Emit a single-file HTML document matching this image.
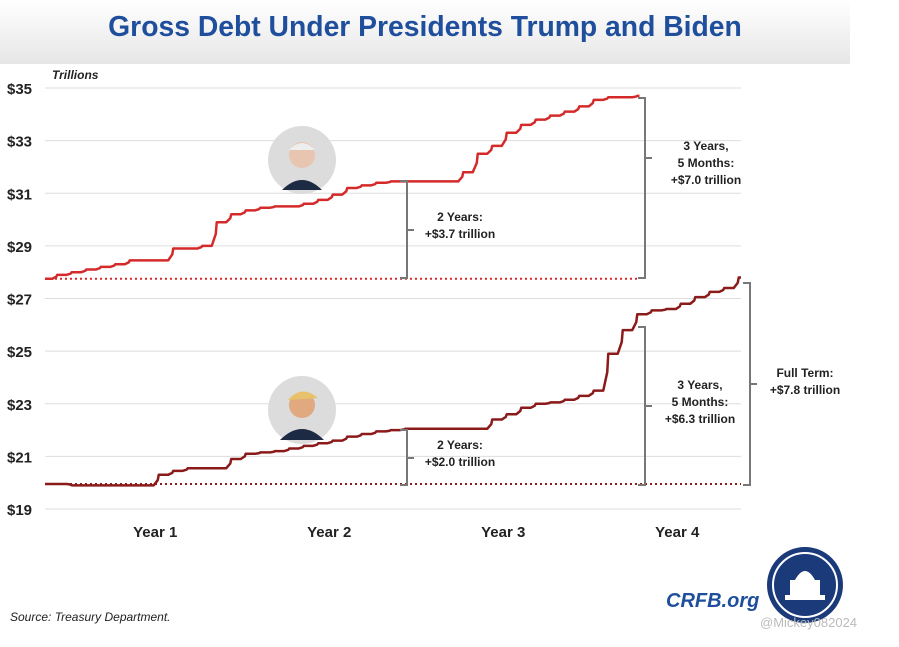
<!DOCTYPE html>
<html><head><meta charset="utf-8"><style>
body{margin:0;background:#fff;width:899px;height:642px;overflow:hidden;font-family:"Liberation Sans",sans-serif}
</style></head><body>
<svg width="899" height="642" xmlns="http://www.w3.org/2000/svg">
<defs><linearGradient id="tg" x1="0" y1="0" x2="0" y2="1"><stop offset="0" stop-color="#fff"/><stop offset="1" stop-color="#e6e6e6"/></linearGradient></defs>
<rect x="0" y="0" width="850" height="64" fill="url(#tg)"/>
<text x="425" y="36" text-anchor="middle" font-size="28.3" font-weight="bold" fill="#1f4e9c">Gross Debt Under Presidents Trump and Biden</text>
<text x="52" y="79" font-size="12" font-style="italic" font-weight="bold" fill="#222">Trillions</text>
<g id="grid"></g><g id="yt"></g><g id="xt"></g><g id="series"></g>
<circle cx="302" cy="160" r="34" fill="#dcdcdc"/>
<path d="M282 190 Q302 170 322 190 Z" fill="#1c2a44"/><circle cx="302" cy="155" r="13" fill="#e8c5b0"/><path d="M289 150 Q302 136 315 150" fill="#eee"/>
<circle cx="302" cy="410" r="34" fill="#dcdcdc"/>
<path d="M280 440 Q302 418 324 440 Z" fill="#1c2a44"/><circle cx="302" cy="405" r="13" fill="#e0a980"/><path d="M288 400 Q302 384 318 398" fill="#e8c26a"/>
<g stroke="#777" stroke-width="2" fill="none">
<path d="M400 181H407V278H400M407 230H414"/>
<path d="M638 98H645V278H638M645 158H652"/>
<path d="M400 430H407V485H400M407 458H414"/>
<path d="M638 327H645V485H638M645 406H652"/>
<path d="M743 283H750V485H743M750 384H757"/>
</g>
<g font-size="12" font-weight="bold" fill="#222" text-anchor="middle">
<text x="460" y="221">2 Years:</text><text x="460" y="238">+$3.7 trillion</text>
<text x="706" y="150">3 Years,</text><text x="706" y="167">5 Months:</text><text x="706" y="184">+$7.0 trillion</text>
<text x="460" y="449">2 Years:</text><text x="460" y="466">+$2.0 trillion</text>
<text x="700" y="389">3 Years,</text><text x="700" y="406">5 Months:</text><text x="700" y="423">+$6.3 trillion</text>
<text x="805" y="377">Full Term:</text><text x="805" y="394">+$7.8 trillion</text>
</g>
<text x="10" y="621" font-size="12" font-style="italic" fill="#222">Source: Treasury Department.</text>
<text x="666" y="607" font-size="20" font-weight="bold" font-style="italic" fill="#1f4e9c">CRFB.org</text>
<circle cx="805" cy="585" r="38" fill="#1a3a7a"/>
<circle cx="805" cy="585" r="32" fill="none" stroke="#fff" stroke-width="2"/>
<path d="M785 600H825V595H785ZM790 595V580H820V595M795 580Q805 562 815 580" fill="#fff"/>
<text x="760" y="627" font-size="13" fill="#bbb">@Mickey082024</text>
</svg>
<script>
const yTicks=[19,21,23,25,27,29,31,33,35];
const yearLabels=["Year 1","Year 2","Year 3","Year 4"];
const bidenDebt=[27.75,27.9,28.0,28.1,28.2,28.3,28.45,28.45,28.45,28.9,28.9,29.0,29.9,30.2,30.35,30.45,30.5,30.5,30.6,30.75,30.95,31.2,31.3,31.4,31.45,31.45,31.45,31.45,31.45,31.8,32.5,32.8,33.3,33.6,33.8,33.95,34.1,34.3,34.55,34.65,34.65,34.7];
const trumpDebt=[19.95,19.95,19.9,19.9,19.9,19.9,19.9,19.9,20.3,20.45,20.55,20.55,20.55,20.9,21.1,21.15,21.2,21.3,21.4,21.5,21.6,21.75,21.85,21.95,22.0,22.05,22.05,22.05,22.05,22.05,22.05,22.4,22.6,22.85,23.0,23.05,23.15,23.3,23.5,24.9,25.8,26.4,26.55,26.6,26.8,27.05,27.25,27.4,27.8];
const NS="http://www.w3.org/2000/svg";
const x=m=>45+m*(696/48), y=v=>509-(v-19)*(421/16);
function mk(t,a,p){const e=document.createElementNS(NS,t);for(const k in a)e.setAttribute(k,a[k]);p.appendChild(e);return e;}
const g=document.getElementById('grid'),yt=document.getElementById('yt'),xt=document.getElementById('xt'),s=document.getElementById('series');
yTicks.forEach(v=>{
 const l=mk('line',{x1:45,x2:741,y1:y(v),y2:y(v),stroke:'#ddd','stroke-width':1},g);
 
 
 const t=mk('text',{x:7,y:y(v)+6,'font-size':15,'font-weight':'bold',fill:'#222'},yt);t.textContent='$'+v;
 
 
});
yearLabels.forEach((lab,i)=>{
 const t=mk('text',{x:x(i*12+7.6),y:537,'font-size':15,'font-weight':'bold',fill:'#222','text-anchor':'middle'},xt);t.textContent=lab;
 
 
});
function series(data,col,name){
 const base=mk('line',{x1:45,x2:x(data.length-1),y1:y(data[0]),y2:y(data[0]),stroke:col,'stroke-width':2,'stroke-dasharray':'2,3'},s);
 
 
 let d='M'+x(0)+' '+y(data[0]);
 for(let i=1;i<data.length;i++){
  const xm=x(i-0.5), yp=y(data[i-1]), yc=y(data[i]);
  d+=' L'+xm+' '+yp+' L'+(xm+4)+' '+(yp+(yc-yp)*0.5)+' L'+(xm+5)+' '+yc+' L'+x(i)+' '+yc;
 }
 const p=mk('path',{d:d,fill:'none',stroke:col,'stroke-width':2.5,'stroke-linejoin':'round'},s);
 
 
}
series(bidenDebt,'#d42a2a','biden');
series(trumpDebt,'#8b1a1a','trump');
</script>
</body></html>
